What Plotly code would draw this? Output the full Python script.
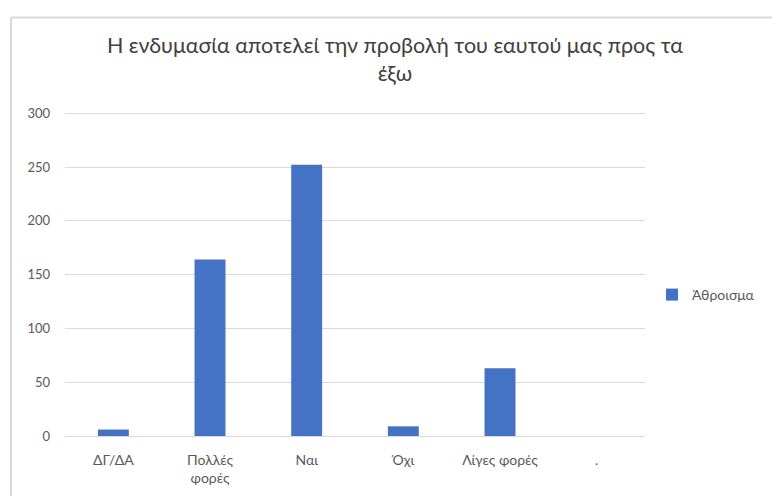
import plotly.graph_objects as go

categories = ["ΔΓ/ΔΑ", "Πολλές<br>φορές", "Ναι", "Όχι", "Λίγες φορές", "."]
values = [6, 164, 252, 9, 63, 0]
series_name = "Άθροισμα"
y_ticks = [0, 50, 100, 150, 200, 250, 300]
title_text = "Η ενδυμασία αποτελεί την προβολή του εαυτού μας προς τα<br>έξω"

W, H = 772, 496
y_top = 303
unit_px = (436.5 - 113) / 300
L, R, B = 65, 127, 59.5
T = 436.5 - y_top * unit_px
pw, ph = W - L - R, H - T - B

def px_x(p):
    return (p - L) / pw

def px_y(p):
    return (H - B - p) / ph

fig = go.Figure()
fig.add_trace(go.Bar(
    x=categories, y=values, name=series_name,
    marker=dict(color="#4472c4", line=dict(width=0)),
    showlegend=True,
))

fig.update_layout(
    width=W, height=H,
    margin=dict(l=L, r=R, t=T, b=B, autoexpand=False),
    paper_bgcolor="white", plot_bgcolor="white",
    font=dict(family="Lato, Open Sans, sans-serif", color="#595959", size=13),
    title=dict(text=title_text, x=395 / W, xanchor="center", y=1 - 53 / H, yanchor="middle",
               font=dict(size=21.5, color="#404040")),
    bargap=0.68,
    showlegend=True,
    legend=dict(xref="container", yref="container", x=652 / W, y=1 - 295 / H,
                xanchor="left", yanchor="middle", itemwidth=30,
                font=dict(size=14, color="#595959"), bgcolor="rgba(0,0,0,0)"),
    xaxis=dict(showgrid=False, showline=False, ticks="", ticklabelstandoff=14,
               tickfont=dict(size=14, color="#595959")),
    yaxis=dict(range=[0, y_top], tickvals=y_ticks, showgrid=True, gridcolor="#d9d9d9", gridwidth=1,
               zeroline=True, zerolinecolor="#d9d9d9", zerolinewidth=1, showline=False,
               ticks="", ticklabelstandoff=14, tickfont=dict(size=13, color="#595959")),
    shapes=[
        dict(type="line", xref="paper", yref="paper", x0=px_x(11), x1=px_x(W + 5),
             y0=px_y(17), y1=px_y(17), line=dict(color="#d9d9d9", width=2)),
        dict(type="line", xref="paper", yref="paper", x0=px_x(11), x1=px_x(11),
             y0=px_y(17), y1=px_y(H + 5), line=dict(color="#d9d9d9", width=2)),
    ],
)

fig.write_html("out.html")
